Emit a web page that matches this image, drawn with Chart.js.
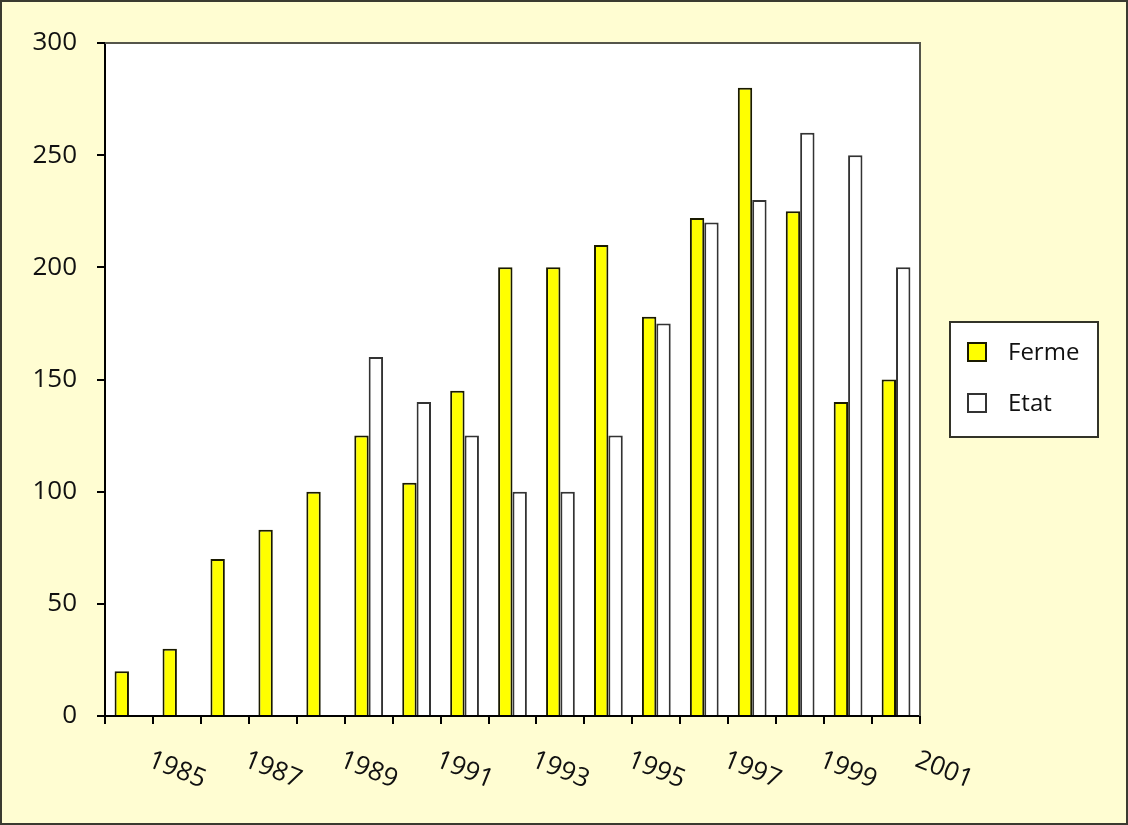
<!DOCTYPE html>
<html>
<head>
<meta charset="utf-8">
<title>Ferme / Etat</title>
<script src="https://cdn.jsdelivr.net/npm/chart.js@4/dist/chart.umd.min.js"></script>
<style>
  html, body { margin: 0; padding: 0; background: #fffdd2; }
  #frame {
    width: 1128px; height: 825px; box-sizing: border-box;
    border: 2px solid #3a3a30; background: #fffdd2;
  }
  canvas { display: block; }
</style>
</head>
<body>
<div id="frame"><canvas id="chart" width="1124" height="821"></canvas></div>
<script>
// ==================== DATA ====================
const years = ["1985", "1986", "1987", "1988", "1989", "1990", "1991", "1992", "1993",
  "1994", "1995", "1996", "1997", "1998", "1999", "2000", "2001"];
const fermeValues = [20, 30, 70, 83, 100, 125, 104, 145, 200, 200, 210, 178, 222, 280, 225, 140, 150];
const etatValues = [null, null, null, null, null, 160, 140, 125, 100, 100, 125, 175, 220, 230, 260, 250, 200];
const xTickLabels = ["1985", "1987", "1989", "1991", "1993", "1995", "1997", "1999", "2001"];
const yTickValues = [0, 50, 100, 150, 200, 250, 300];

const FONT = "'Open Sans', 'DejaVu Sans', sans-serif";
const TEXT = "#111111";

// ==================== PLUGINS ====================
// white plot area + grey frame on top/right
const plotArea = {
  id: "plotArea",
  beforeDraw(chart) {
    const { ctx, chartArea: a } = chart;
    ctx.save();
    ctx.fillStyle = "#ffffff";
    ctx.fillRect(a.left, a.top, a.right - a.left, a.bottom - a.top);
    ctx.restore();
  },
  afterDraw(chart) {
    const { ctx, chartArea: a } = chart;
    ctx.save();
    ctx.strokeStyle = "#55554a";
    ctx.lineWidth = 2;
    ctx.beginPath();
    ctx.moveTo(a.left, a.top);
    ctx.lineTo(a.right, a.top);
    ctx.lineTo(a.right, a.bottom);
    ctx.stroke();
    ctx.restore();
  }
};

// slanted year labels (they sit one category to the right, as in the original)
const slantedYears = {
  id: "slantedYears",
  afterDraw(chart) {
    const { ctx, chartArea: a } = chart;
    const xs = chart.scales.x;
    const step = xs.getPixelForTick(1) - xs.getPixelForTick(0);
    ctx.save();
    ctx.font = "26px " + FONT;
    ctx.fillStyle = TEXT;
    ctx.textAlign = "center";
    ctx.textBaseline = "middle";
    years.forEach((yr, i) => {
      if (!xTickLabels.includes(yr)) return;
      const x = xs.getPixelForTick(i) + step;
      ctx.save();
      ctx.translate(x, a.bottom + 54);
      ctx.rotate(22 * Math.PI / 180);
      ctx.fillText(yr, 0, 0);
      ctx.restore();
    });
    ctx.restore();
  }
};

// boxed legend on the right
const boxLegend = {
  id: "boxLegend",
  afterDraw(chart) {
    const { ctx, chartArea: a } = chart;
    const w = 148, h = 115;
    const left = a.right + 30;
    const top = (a.top + a.bottom) / 2 - h / 2;
    ctx.save();
    ctx.fillStyle = "#ffffff";
    ctx.fillRect(left, top, w, h);
    ctx.strokeStyle = "#333328";
    ctx.lineWidth = 2;
    ctx.strokeRect(left, top, w, h);
    ctx.font = "24px " + FONT;
    ctx.textBaseline = "middle";
    chart.data.datasets.forEach((ds, i) => {
      const cy = top + 30 + i * 51;
      ctx.fillStyle = ds.backgroundColor;
      ctx.fillRect(left + 18, cy - 9, 18, 18);
      ctx.strokeStyle = ds.borderColor;
      ctx.lineWidth = 2;
      ctx.strokeRect(left + 18, cy - 9, 18, 18);
      ctx.fillStyle = TEXT;
      ctx.fillText(ds.label, left + 58, cy + 1);
    });
    ctx.restore();
  }
};

// ==================== CHART ====================
const ctx = document.getElementById("chart").getContext("2d");
new Chart(ctx, {
  type: "bar",
  data: {
    labels: years,
    datasets: [
      {
        label: "Ferme",
        data: fermeValues,
        backgroundColor: "#ffff00",
        borderColor: "#1a1a00",
        borderWidth: 2,
        categoryPercentage: 0.6,
        barPercentage: 1.0
      },
      {
        label: "Etat",
        data: etatValues,
        backgroundColor: "#ffffff",
        borderColor: "#333333",
        borderWidth: 2,
        categoryPercentage: 0.6,
        barPercentage: 1.0
      }
    ]
  },
  options: {
    responsive: false,
    animation: false,
    layout: { padding: { left: 28, top: 41, right: 206, bottom: 0 } },
    plugins: {
      legend: { display: false },
      tooltip: { enabled: false }
    },
    scales: {
      x: {
        offset: true,
        ticks: { display: false },
        grid: { offset: true, drawOnChartArea: false, tickLength: 8, color: "#000", lineWidth: 2 },
        border: { color: "#000", width: 2 },
        afterFit: s => { s.height = 107; }
      },
      y: {
        min: 0,
        max: 300,
        afterBuildTicks: s => { s.ticks = yTickValues.map(v => ({ value: v })); },
        ticks: { color: TEXT, padding: 20, font: { family: FONT, size: 26 } },
        grid: { drawOnChartArea: false, tickLength: 8, color: "#000", lineWidth: 2 },
        border: { color: "#000", width: 2 },
        afterFit: s => { s.width = 75; }
      }
    }
  },
  plugins: [plotArea, slantedYears, boxLegend]
});
</script>
</body>
</html>
